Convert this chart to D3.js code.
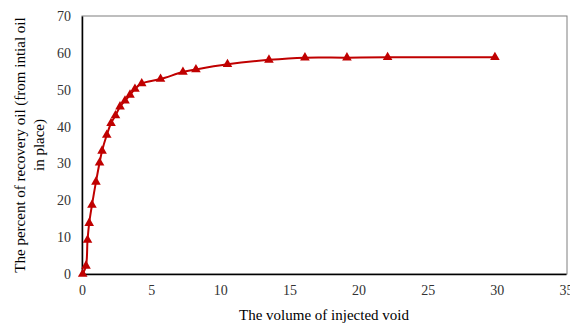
<!DOCTYPE html>
<html>
<head>
<meta charset="utf-8">
<style>
    body { margin: 0; background: white; }
    svg { display: block; font-family: 'Liberation Serif', 'Times New Roman', serif; }
</style>
</head>
<body>
<svg width="570" height="324"></svg>
<script src="https://d3js.org/d3.v7.min.js"></script>
<script>
    // injected void volume vs recovery percent
    let injected = [0.05, 0.29, 0.4, 0.52, 0.72, 1.01, 1.27, 1.45, 1.79, 2.1, 2.42, 2.75, 3.11, 3.47, 3.83, 4.32, 5.68, 7.3, 8.24, 10.52, 13.52, 16.12, 19.16, 22.1, 29.86]
    let recovery = [0, 2.2, 9.2, 13.8, 18.7, 25.0, 30.2, 33.4, 37.7, 40.9, 43.0, 45.4, 47.0, 48.6, 50.2, 51.7, 52.9, 54.8, 55.5, 56.9, 58.1, 58.7, 58.7, 58.8, 58.8]
    let xTicks = [0, 5, 10, 15, 20, 25, 30, 35]
    let yTicks = [0, 10, 20, 30, 40, 50, 60, 70]

    let points = injected.map((v, i) => ({ x: v, y: recovery[i] }))

    let svg = d3.select("svg")
    let plotLeft = 82, plotRight = 566, plotTop = 16, plotBottom = 274

    let x = d3.scaleLinear().domain([0, 35]).range([plotLeft, plotRight])
    let y = d3.scaleLinear().domain([0, 70]).range([plotBottom, plotTop])

    // frame (top and right in grey)
    svg.append("rect")
        .attr("x", plotLeft).attr("y", plotTop)
        .attr("width", plotRight + 1 - plotLeft).attr("height", plotBottom - plotTop)
        .style("fill", "none")
        .style("stroke", "#7f7f7f")
        .style("stroke-width", 1)

    let xAxis = svg.append("g")
        .attr("transform", `translate(0,${plotBottom})`)
        .call(d3.axisBottom(x).tickValues(xTicks).tickSize(0).tickPadding(11))
        .attr("font-family", "'Liberation Serif', serif")
        .attr("font-size", 14)
    xAxis.select(".domain").style("stroke", "#000").style("stroke-width", 1.5)
    xAxis.selectAll("text").style("fill", "#333")

    let yAxis = svg.append("g")
        .attr("transform", `translate(${plotLeft},0)`)
        .call(d3.axisLeft(y).tickValues(yTicks).tickSize(0).tickPadding(11))
        .attr("font-family", "'Liberation Serif', serif")
        .attr("font-size", 14)
    yAxis.select(".domain").style("stroke", "#000").style("stroke-width", 1.5)
    yAxis.selectAll("text").style("fill", "#333")

    let line = d3.line()
        .x(d => x(d.x))
        .y(d => y(d.y))
        .curve(d3.curveCatmullRom.alpha(0.5))

    svg.append("path")
        .datum(points)
        .attr("d", line)
        .style("fill", "none")
        .style("stroke", "#c00000")
        .style("stroke-width", 2)

    svg.append("g")
        .selectAll("path")
        .data(points)
        .join("path")
        .attr("d", d3.symbol(d3.symbolTriangle, 40))
        .attr("transform", d => `translate(${x(d.x)},${y(d.y)})`)
        .style("fill", "#c00000")

    // axis titles
    svg.append("text")
        .attr("x", (plotLeft + plotRight) / 2)
        .attr("y", 320)
        .attr("text-anchor", "middle")
        .style("font-size", "15px")
        .style("fill", "#000")
        .text("The volume of injected void")

    let yTitle = svg.append("text")
        .attr("transform", `translate(25,${(plotTop + plotBottom) / 2}) rotate(-90)`)
        .attr("text-anchor", "middle")
        .style("font-size", "15px")
        .style("fill", "#000")
    yTitle.append("tspan").attr("x", 0).attr("dy", 0).text("The percent of recovery oil (from intial oil")
    yTitle.append("tspan").attr("x", 0).attr("dy", 19).text("in place)")
</script>
</body>
</html>
